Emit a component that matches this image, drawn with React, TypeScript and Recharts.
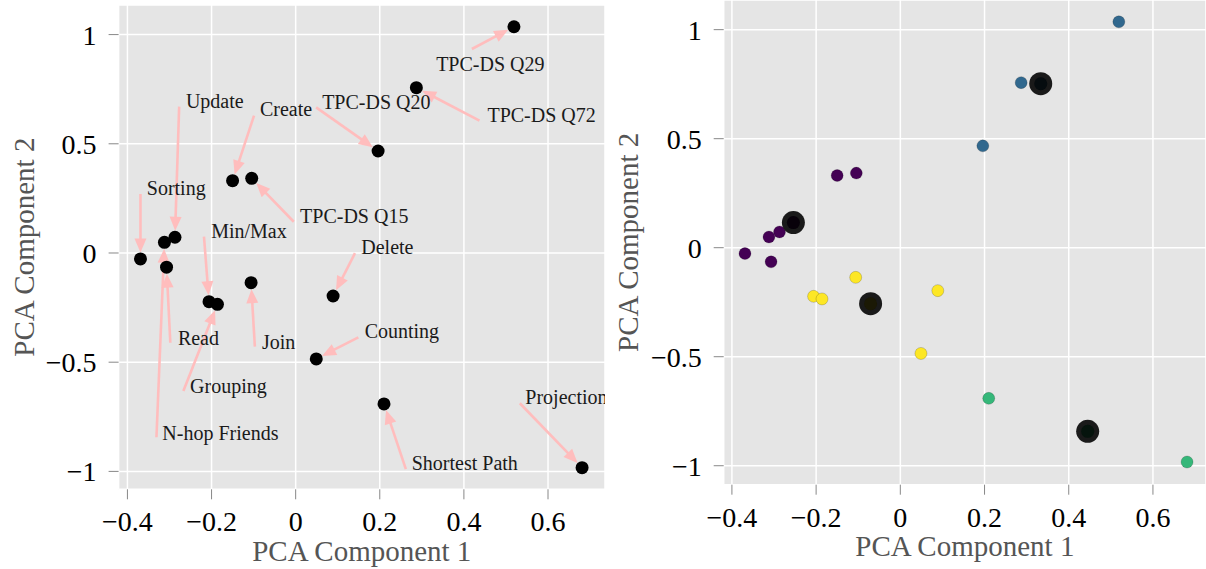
import React from 'react';
import { ScatterChart, Scatter, XAxis, YAxis, CartesianGrid, ReferenceLine } from 'recharts';

// PCA coordinates of each query
const queries = [
  'TPC-DS Q29', 'TPC-DS Q72', 'TPC-DS Q20', 'Create', 'TPC-DS Q15', 'Update', 'N-hop Friends', 'Sorting',
  'Read', 'Join', 'Min/Max', 'Grouping', 'Delete', 'Counting', 'Shortest Path', 'Projection',
];
const pc1 = [0.519, 0.287, 0.196, -0.15, -0.1045, -0.287, -0.312, -0.369, -0.307, -0.106, -0.206, -0.186, 0.089, 0.049, 0.21, 0.681];
const pc2 = [1.036, 0.757, 0.467, 0.331, 0.342, 0.072, 0.049, -0.027, -0.065, -0.136, -0.223, -0.235, -0.197, -0.485, -0.691, -0.983];
const cluster = [1, 1, 1, 0, 0, 0, 0, 0, 0, 3, 3, 3, 3, 3, 2, 2];

// annotation text anchor (left edge, middle) and arrow tail, in data units
const textX = [0.334, 0.456, 0.063, -0.085, 0.0105, -0.261, -0.317, -0.354, -0.28, -0.08, -0.201, -0.251, 0.156, 0.164, 0.276, 0.546];
const textY = [0.864, 0.632, 0.693, 0.659, 0.169, 0.696, -0.823, 0.298, -0.388, -0.406, 0.101, -0.609, 0.027, -0.357, -0.963, -0.658];
const tailX = [0.419, 0.437, 0.0486, -0.099, -0.0045, -0.277, -0.331, -0.369, -0.298, -0.097, -0.218, -0.267, 0.141, 0.149, 0.262, 0.533];
const tailY = [0.934, 0.606, 0.667, 0.629, 0.143, 0.67, -0.844, 0.27, -0.411, -0.429, 0.075, -0.632, -0.001, -0.386, -0.99, -0.688];

// k-means centres
const centreX = [-0.254, 0.3335, 0.445, -0.0706];
const centreY = [0.115, 0.752, -0.842, -0.257];
const clusterColors = ['#440154', '#31688e', '#35b779', '#fde725'];

const xTicks = [-0.4, -0.2, 0, 0.2, 0.4, 0.6];
const yTicks = [-1, -0.5, 0, 0.5, 1];

const font = "'Liberation Serif', 'Times New Roman', serif";
const fmt = (v: number) => (v < 0 ? '\u2212' + Math.abs(v) : String(v));

const points = queries.map((name, i) => ({ name, x: pc1[i], y: pc2[i], c: cluster[i] }));
const labels = queries.map((name, i) => ({ name, x: textX[i], y: textY[i] }));
const centres = centreX.map((x, i) => ({ x, y: centreY[i], c: i }));

const ArrowShape = (props: any) => {
  const { x1, y1, x2, y2 } = props;
  const dx = x2 - x1;
  const dy = y2 - y1;
  const len = Math.hypot(dx, dy);
  const ux = dx / len;
  const uy = dy / len;
  const tx = x2 - ux * 6.5;
  const ty = y2 - uy * 6.5;
  const hl = 14;
  const hw = 6;
  const bx = tx - ux * hl;
  const by = ty - uy * hl;
  const pts = `${tx},${ty} ${bx - uy * hw},${by + ux * hw} ${bx + uy * hw},${by - ux * hw}`;
  return (
    <g>
      <line x1={x1} y1={y1} x2={bx + ux * 2} y2={by + uy * 2} stroke="#ffbdbd" strokeWidth={2.6} />
      <polygon points={pts} fill="#ffbdbd" />
    </g>
  );
};

const LabelText = (props: any) => (
  <text x={props.cx} y={props.cy} dominantBaseline="central" fontFamily={font} fontSize={20} fill="#1a1a1a">
    {props.payload.name}
  </text>
);

const BlackDot = (props: any) => <circle cx={props.cx} cy={props.cy} r={6.5} fill="#000" />;

const ColorDot = (props: any) => (
  <circle cx={props.cx} cy={props.cy} r={6} fill={clusterColors[props.payload.c]} stroke="rgba(0,0,0,0.22)" strokeWidth={0.8} />
);

const CentreDot = (props: any) => (
  <g>
    <circle cx={props.cx} cy={props.cy} r={11.5} fill="#1a1a1a" />
    <circle cx={props.cx} cy={props.cy} r={6.5} fill="#020202" />
    <circle cx={props.cx} cy={props.cy} r={6.5} fill={clusterColors[props.payload.c]} opacity={0.1} />
  </g>
);

const xLabel = (gap: number) => (p: any) => {
  const vb = p.viewBox;
  return (
    <text x={vb.x + vb.width / 2} y={vb.y + vb.height - gap} textAnchor="middle" fontFamily={font} fontSize={29} fill="#555">
      PCA Component 1
    </text>
  );
};

const yLabel = (base: number) => (p: any) => {
  const vb = p.viewBox;
  const cy = vb.y + vb.height / 2;
  return (
    <text x={base} y={cy} textAnchor="middle" transform={`rotate(-90, ${base}, ${cy})`} fontFamily={font} fontSize={29} fill="#555">
      PCA Component 2
    </text>
  );
};

const tickStyle = { fill: '#000', fontSize: 28, fontFamily: font };

export default function App() {
  return (
    <div style={{ position: 'fixed', left: 0, top: 0, width: 1206, height: 569, background: '#fff' }}>
      <div style={{ position: 'absolute', left: 0, top: 0 }}>
        <ScatterChart width={605} height={569} margin={{ top: 5, right: 0, bottom: 0, left: 0 }}>
          <CartesianGrid fill="#e5e5e5" stroke="#fff" strokeWidth={1.5} />
          <XAxis
            type="number"
            dataKey="x"
            domain={[-0.421, 0.7355]}
            ticks={xTicks}
            allowDataOverflow
            height={79.7}
            tickSize={10}
            tickMargin={12}
            axisLine={false}
            tickLine={{ stroke: '#888' }}
            tick={tickStyle}
            tickFormatter={fmt}
            label={{ content: xLabel(8) }}
          />
          <YAxis
            type="number"
            dataKey="y"
            domain={[-1.082, 1.1355]}
            ticks={yTicks}
            allowDataOverflow
            width={118.6}
            tickSize={10}
            tickMargin={12}
            axisLine={false}
            tickLine={{ stroke: '#888' }}
            tick={tickStyle}
            tickFormatter={fmt}
            label={{ content: yLabel(34) }}
          />
          {queries.map((q, i) => (
            <ReferenceLine
              key={q}
              segment={[{ x: tailX[i], y: tailY[i] }, { x: pc1[i], y: pc2[i] }]}
              shape={ArrowShape}
            />
          ))}
          <Scatter data={points} shape={BlackDot} isAnimationActive={false} />
          <Scatter data={labels} shape={LabelText} isAnimationActive={false} />
        </ScatterChart>
      </div>
      <div style={{ position: 'absolute', left: 605, top: 0 }}>
        <ScatterChart width={601} height={569} margin={{ top: 0, right: 0, bottom: 0, left: 0 }}>
          <CartesianGrid fill="#e5e5e5" stroke="#fff" strokeWidth={1.5} />
          <XAxis
            type="number"
            dataKey="x"
            domain={[-0.4195, 0.726]}
            ticks={xTicks}
            allowDataOverflow
            height={84.3}
            tickSize={10}
            tickMargin={12}
            axisLine={false}
            tickLine={{ stroke: '#888' }}
            tick={tickStyle}
            tickFormatter={fmt}
            label={{ content: xLabel(13) }}
          />
          <YAxis
            type="number"
            dataKey="y"
            domain={[-1.087, 1.136]}
            ticks={yTicks}
            allowDataOverflow
            width={118.7}
            tickSize={10}
            tickMargin={12}
            axisLine={false}
            tickLine={{ stroke: '#888' }}
            tick={tickStyle}
            tickFormatter={fmt}
            label={{ content: yLabel(33) }}
          />
          <Scatter data={points} shape={ColorDot} isAnimationActive={false} />
          <Scatter data={centres} shape={CentreDot} isAnimationActive={false} />
        </ScatterChart>
      </div>
    </div>
  );
}
